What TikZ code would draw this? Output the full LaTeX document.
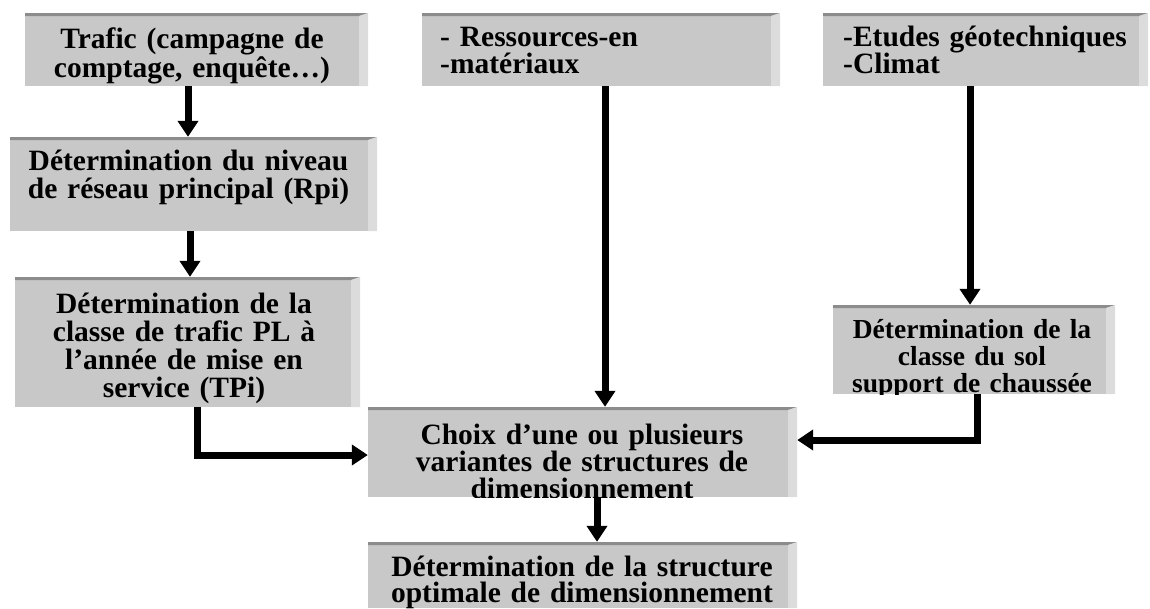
\documentclass[tikz,border=0pt]{standalone}
\usepackage{fontspec}
\setmainfont{Liberation Serif}
\usetikzlibrary{arrows.meta}
\definecolor{boxfill}{RGB}{200,200,200}
\definecolor{boxtop}{RGB}{140,140,140}
\definecolor{boxside}{RGB}{220,220,220}
\tikzset{
  bevel/.style={path picture={
    \fill[boxtop] (path picture bounding box.north west) -- (path picture bounding box.north east)
      -- ([xshift=-9pt,yshift=-3pt]path picture bounding box.north east) -- ([yshift=-3pt]path picture bounding box.north west) -- cycle;
    \fill[boxside] ([xshift=-9pt,yshift=-3pt]path picture bounding box.north east) -- (path picture bounding box.north east)
      -- (path picture bounding box.south east) -- ([xshift=-9pt]path picture bounding box.south east) -- cycle;
  }},
  box/.style={rectangle, fill=boxfill, inner sep=0pt, bevel},
  txt/.style={inner sep=0pt, anchor=base, align=center, text width=#1},
  ltxt/.style={inner sep=0pt, anchor=base west, align=left, text width=#1},
  big/.style={font={\bfseries\fontsize{29.5}{28}\selectfont}},
  arr/.style={line width=7pt, -{Triangle[width=20pt,length=16pt]}}
}
\begin{document}
\begin{tikzpicture}[x=1pt,y=-1pt]
\useasboundingbox (0,0) rectangle (1150,608);
% boxes
\node[box, minimum width=343pt, minimum height=73pt] (A) at (196.5,49.5) {};
\node[box, minimum width=358pt, minimum height=73pt] (B) at (601,49.5) {};
\node[box, minimum width=325pt, minimum height=73pt] (C) at (985.5,49.5) {};
\node[box, minimum width=367pt, minimum height=94pt] (D) at (193.5,184) {};
\node[box, minimum width=345pt, minimum height=130pt] (E) at (187.5,342) {};
\node[box, minimum width=282pt, minimum height=89pt] (F) at (974,349.5) {};
\node[box, minimum width=429pt, minimum height=90pt] (G) at (582.5,452) {};
\node[box, minimum width=429pt, minimum height=66pt] (H) at (582.5,575) {};
% texts
\node[txt=340pt, font={\bfseries\fontsize{29.5}{29}\selectfont}] (tA) at (192,48) {Trafic (campagne de\\comptage, enquête…)};
\node[ltxt=330pt, font={\bfseries\fontsize{29.5}{27}\selectfont}] (tB) at (440,46) {- Ressources-en\\-matériaux};
\node[ltxt=300pt, font={\bfseries\fontsize{29.5}{27}\selectfont}] (tC) at (843,46) {-Etudes géotechniques\\-Climat};
\node[txt=360pt, big] (tD) at (188.5,170) {Détermination du niveau\\de réseau principal (Rpi)};
\node[txt=340pt, big] (tE) at (184,313) {Détermination de la\\classe de trafic PL à\\l’année de mise en\\service (TPi)};
\begin{scope}
  \clip (F.south west) rectangle (F.north east);
  \node[txt=280pt, font={\bfseries\fontsize{27.5}{27}\selectfont}] (tF) at (972,338) {Détermination de la\\classe du sol\\support de chaussée};
\end{scope}
\begin{scope}
  \clip (G.south west) rectangle (G.north east);
  \node[txt=425pt, font={\bfseries\fontsize{29.5}{27}\selectfont}] (tG) at (582,444) {Choix d’une ou plusieurs\\variantes de structures de\\dimensionnement};
\end{scope}
\node[txt=425pt, font={\bfseries\fontsize{29.5}{26.5}\selectfont}] (tH) at (582,576) {Détermination de la structure\\optimale de dimensionnement};
% connectors
\draw[arr] ([xshift=-8.5pt]A.south) -- ([xshift=-8.5pt]A.south |- D.north);
\draw[arr] ([xshift=-3.5pt]D.south) -- ([xshift=-3.5pt]D.south |- E.north);
\draw[arr] ([xshift=4pt]B.south) -- ([xshift=4pt]B.south |- G.north);
\draw[arr] ([xshift=-15.5pt]C.south) -- ([xshift=-15.5pt]C.south |- F.north);
\draw[arr] ([xshift=9.5pt]E.south) |- ([yshift=-3pt]G.west);
\draw[arr] ([xshift=3pt]F.south) |- ([yshift=12pt]G.east);
\draw[arr] ([xshift=14.5pt]G.south) -- ([xshift=14.5pt]G.south |- H.north);
\end{tikzpicture}
\end{document}
